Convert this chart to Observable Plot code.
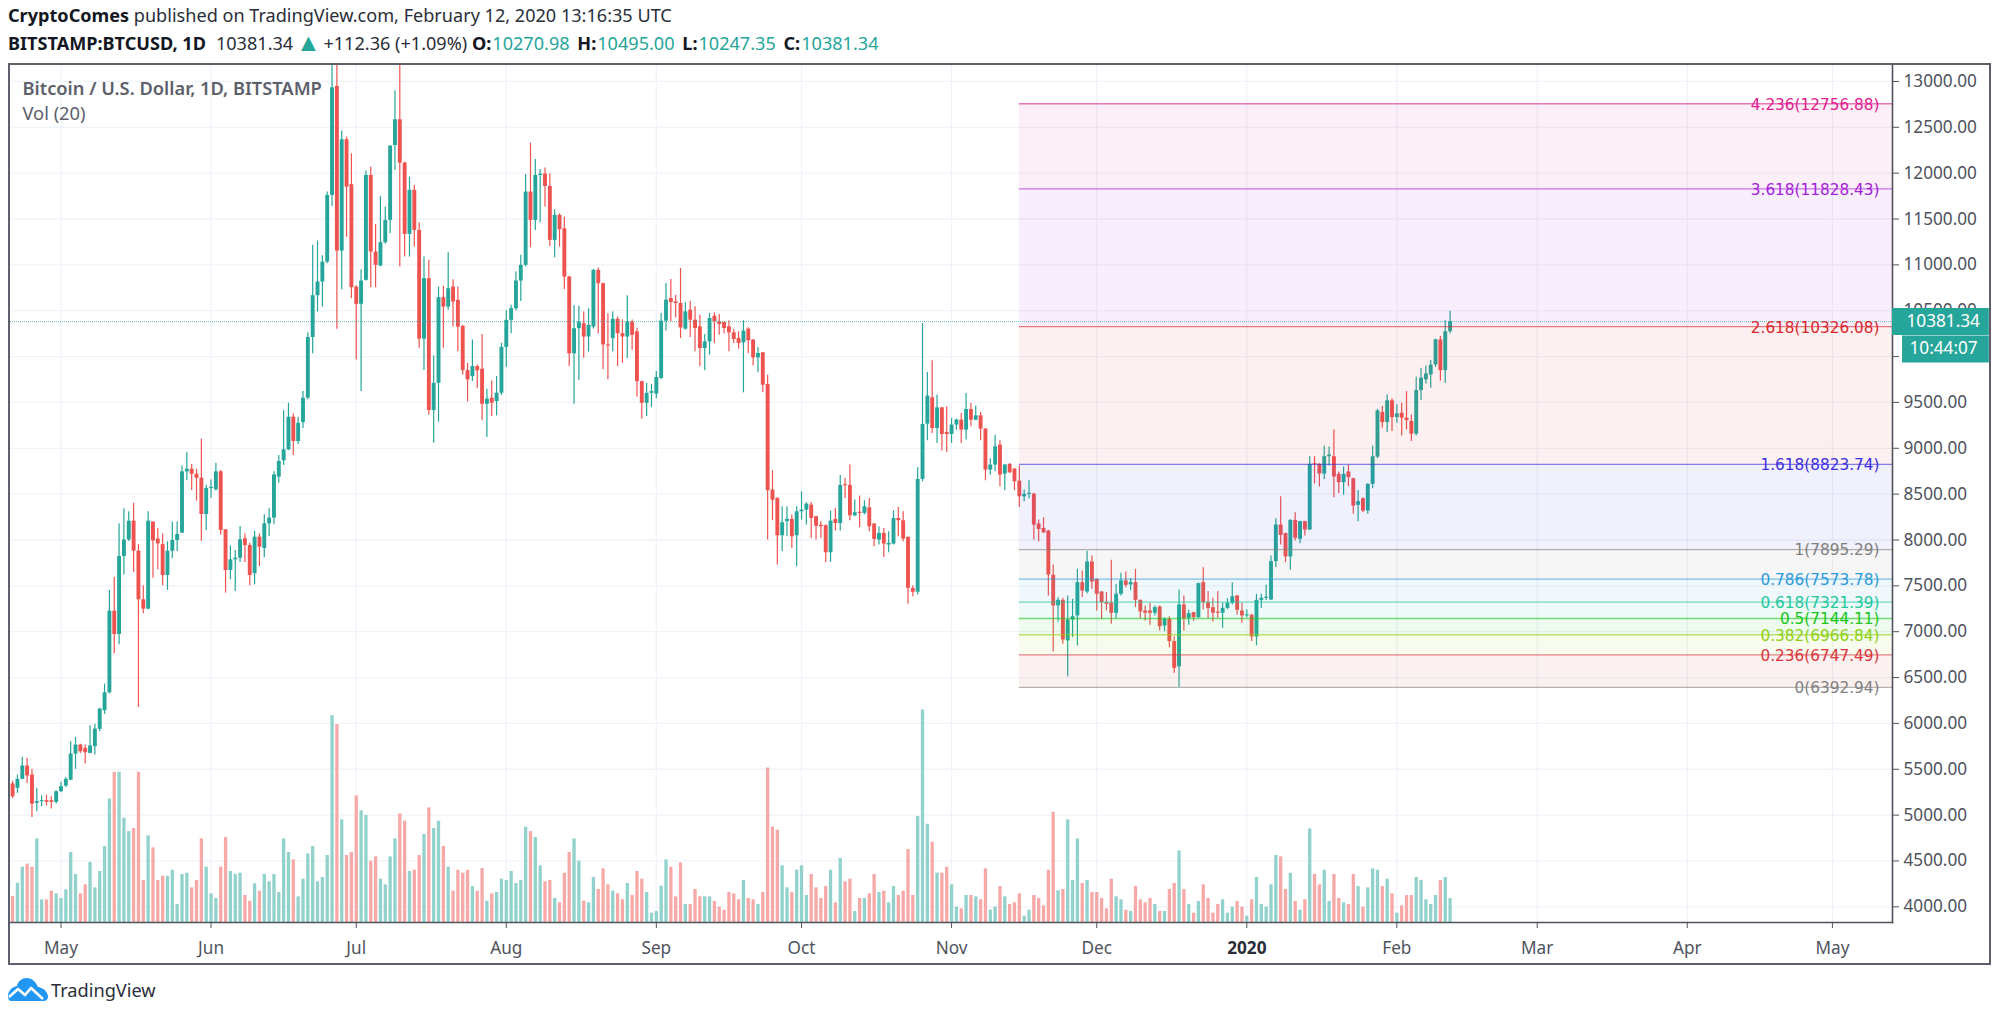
<!DOCTYPE html>
<html>
<head>
<meta charset="utf-8">
<script src="https://cdn.jsdelivr.net/npm/d3@7"></script>
<script src="https://cdn.jsdelivr.net/npm/@observablehq/plot@0.6"></script>
<style>
html,body{margin:0;padding:0;background:#fff;overflow:hidden;width:2000px;height:1018px}
body{font-family:"Noto Sans",sans-serif;color:#131722}
#head{height:63px;box-sizing:border-box;padding:1px 0 0 8px;font-size:18.1px;line-height:28px;white-space:nowrap;color:#2a2e39}
#head b{font-weight:700;color:#131722}
#head .v{color:#26a69a}
#head .gap{margin-left:10px}
#head .lab{margin-left:1px}
#head .key{margin-left:3px}
#head .arr{font-size:25px;line-height:20px;vertical-align:-1px;margin:0 -2px}
#chart{box-sizing:border-box;margin-left:8px;width:1983px;height:902px;border:2px solid #5d606b;overflow:hidden}
#chart svg{display:block}
#foot{display:flex;align-items:center;height:36px;padding:7px 0 0 8px;font-size:18.2px;color:#2a2e39}
#foot svg{margin-right:3px}
</style>
</head>
<body>
<div id="head">
<div><b>CryptoComes</b> published on TradingView.com, February 12, 2020 13:16:35 UTC</div>
<div><b>BITSTAMP:BTCUSD, 1D</b><span class="gap">10381.34</span> <span class="v arr">▲</span> +112.36 (+1.09%) <b>O:</b><span class="v lab">10270.98</span> <b class="key">H:</b><span class="v lab">10495.00</span> <b class="key">L:</b><span class="v lab">10247.35</span> <b class="key">C:</b><span class="v lab">10381.34</span></div>
</div>
<div id="chart"></div>
<div id="foot">
<svg width="40" height="24" viewBox="0 0 40 24"><path fill="#2196f3" d="M3 23h33c2 0 4-2 4-4 0-4-3-8-7-9-1-1-2-1-3-1C28 4 24 0 19 0 14 0 10 3 9 8 4 9 0 13 0 18c0 3 1 5 3 5z"/><path fill="none" stroke="#fff" stroke-width="2.6" stroke-linejoin="round" d="M1 19l9-8 7 6 6-7 12 11"/></svg>
<span>TradingView</span>
</div>
<script>
const firstDay = "2019-04-21";
const opens = [
5339,5292,5390,5535,5437,5128,5146,5157,5157,5139,
5255,5317,5382,5666,5764,5728,5673,5746,5935,6138,6334,7224,6970,7820,8000,8205,7878,7348,7246,8195,8010,7950,7613,7878,7995,8075,8743,8772,8717,8674,8278,
8561,8547,8743,8110,7668,7784,7802,8013,7940,7631,8031,7907,8176,8238,8685,8863,8983,9339,9074,9280,9546,10208,10664,10813,11030,11757,12945,11150,12364,11874,
10758,10570,10831,11975,11140,10987,11242,11485,12302,12582,12110,11332,11812,11376,10190,10850,9411,9709,10642,10540,10758,10613,10330,9847,9782,9891,9862,9480,9546,9510,9600,
10100,10395,10522,10824,10995,11794,11485,11975,11990,11855,11267,11540,11394,10867,10030,10304,10359,10213,10322,10940,10795,10127,10195,10406,10250,10213,10377,10270,9727,9491,9600,
9590,9761,10386,10633,10597,10579,10299,10506,10397,10324,10088,10160,10440,10379,10372,10324,10259,10197,10150,10299,10179,9986,10041,9696,8544,8453,8046,8200,8224,8046,
8308,8326,8380,8253,8160,8155,7861,8224,8180,8595,8595,8264,8300,8290,8351,8174,8000,8072,7945,7955,8235,8210,8028,7472,7430,8660,9263,9550,9216,9441,9173,
9151,9253,9307,9198,9423,9307,9354,9209,8762,8817,9035,8718,8824,8773,8642,8471,8497,8500,8174,8126,8097,7615,7281,7342,6899,7128,7172,7535,7433,7760,
7571,7433,7317,7310,7201,7408,7553,7510,7535,7342,7226,7226,7201,7270,7062,7135,6892,6616,7292,7146,7208,7153,7535,7317,7262,7208,7201,7255,7310,7390,7226,
7172,7179,6943,7342,7364,7346,7764,8163,8069,7815,8214,8007,8200,8109,8825,8825,8719,8908,8908,8716,8625,8741,8668,8378,8450,8316,8607,8903,9390,9280,9517,
9335,9382,9328,9292,9154,9629,9746,9800,9909,10182,9847,10270.98];
const closes = [
5200,5390,5535,5426,5120,5146,5157,5139,5139,5255,
5310,5390,5666,5764,5691,5680,5753,5938,6156,6334,7224,6970,7820,8000,8205,7878,7348,7246,8205,7990,7958,7613,7878,7995,8060,8743,8772,8717,8674,8278,8561,
8570,8743,8104,7668,7784,7802,8002,7940,7613,8031,7922,8176,8238,8710,8856,8983,9339,9074,9273,9546,10208,10664,10813,11030,11757,12931,11150,12364,11848,10751,
10570,10824,11975,11140,10995,11242,11485,12295,12582,12110,11332,11812,11376,10190,10850,9411,9709,10642,10540,10740,10595,10322,9847,9746,9891,9844,9480,9535,9491,9600,10100,
10395,10522,10824,10995,11794,11485,11975,11990,11855,11267,11540,11383,10867,10030,10304,10376,10213,10340,10940,10795,10127,10115,10406,10250,10213,10377,10232,9727,9491,9600,9618,
9772,10386,10615,10590,10579,10313,10488,10397,10306,10088,10160,10415,10379,10350,10306,10259,10186,10143,10277,10172,9986,10034,9688,8537,8435,8046,8188,8224,8035,8308,
8326,8391,8235,8150,8144,7861,8206,8180,8595,8591,8264,8297,8290,8362,8144,8006,8072,7955,7963,8235,8210,8010,7472,7430,8660,9260,9568,9216,9441,9151,9151,
9253,9307,9198,9423,9307,9354,9209,8762,8817,9016,8708,8817,8733,8635,8471,8497,8508,8162,8115,8079,7618,7281,7342,6910,7128,7164,7535,7444,7760,7542,
7408,7317,7299,7201,7408,7553,7506,7535,7342,7215,7201,7201,7262,7055,7135,6892,6601,7292,7143,7197,7153,7524,7317,7252,7201,7201,7255,7310,7382,7233,7172,
7179,6943,7342,7364,7371,7764,8163,8050,7815,8214,8018,8200,8109,8825,8820,8719,8908,8926,8687,8625,8716,8679,8370,8418,8316,8607,8908,9408,9280,9517,9335,
9375,9328,9302,9154,9629,9764,9811,9906,10182,9847,10271,10381.34];
const highs = [
5370,5437,5630,5619,5499,5292,5212,5219,5201,5265,
5357,5411,5800,5847,5772,5764,5975,5990,6165,6429,7450,7595,8176,8340,8307,8400,7950,7500,8307,8200,8125,8065,7980,8195,8195,8808,8954,8823,8772,9099,8598,
8655,8838,8757,8115,7936,7885,8147,8064,7965,8096,8067,8274,8340,8743,8921,9408,9491,9375,9339,9618,10260,11213,11260,11100,11794,13800,13450,12459,12393,12211,
10770,10947,12023,12066,11441,11747,11630,12300,12900,13200,12120,11957,11866,11460,11085,11050,10007,10758,10766,11133,10838,10758,10340,9927,10180,9909,10240,9644,9735,9782,10145,
10500,10560,10922,11104,11986,12328,12150,12040,12055,11994,11600,11557,11520,10875,10558,10548,10486,10522,10950,10966,10800,10468,10486,10430,10400,10664,10400,10310,9730,9709,9698,
9836,10470,10796,10840,10670,10960,10586,10604,10542,10451,10240,10470,10477,10459,10378,10390,10295,10270,10390,10313,10185,10100,10045,9797,8755,8460,8363,8362,8272,8362,
8526,8405,8410,8258,8200,8165,8315,8344,8704,8671,8817,8435,8479,8428,8453,8180,8145,8126,8090,8319,8355,8308,8035,7500,8791,10360,9826,9954,9580,9445,9452,
9325,9320,9380,9598,9489,9460,9390,9215,8889,9143,9082,8825,8835,8780,8806,8544,8646,8510,8217,8243,8105,7728,7371,7364,7390,7353,7680,7662,7876,7826,
7575,7438,7426,7778,7517,7637,7651,7579,7680,7347,7281,7310,7280,7280,7150,7164,6946,7455,7390,7233,7212,7530,7698,7437,7364,7437,7310,7360,7535,7395,7310,
7237,7190,7408,7408,7506,7826,8232,8472,8075,8220,8298,8205,8205,8908,8908,8830,9024,9013,9199,8741,8796,8814,8672,8541,8461,8612,9024,9425,9455,9582,9539,
9473,9491,9618,9364,9775,9873,9898,9956,10190,10218,10392,10495];
const lows = [
5180,5237,5385,5346,4975,5037,5092,5099,5066,5121,
5245,5300,5375,5500,5673,5557,5668,5655,5909,6098,6320,6760,6857,7617,7984,7646,6174,7195,7240,7584,7675,7500,7450,7795,7875,8070,8650,8540,8423,7987,8100,
8455,8535,8053,7420,7566,7439,7755,7755,7500,7511,7711,7806,8038,8165,8620,8812,8976,8921,9040,9215,9530,10030,10486,10540,11012,11637,10297,10729,11300,10631,
9964,9619,10825,10751,10751,10980,11225,11340,12030,10976,11085,11085,11195,10090,9847,9360,9055,9285,10090,10504,10322,10054,9800,9505,9727,9648,9299,9117,9346,9353,9575,
9884,10250,10500,10600,10980,11187,11376,11460,11630,11200,11078,11195,10730,9890,9480,9740,9982,10050,10300,10250,9855,9746,10050,9890,9927,9980,10070,9557,9317,9346,9444,
9539,9750,10280,10379,10420,10197,10290,10208,10052,9888,9845,10015,10143,10233,10250,10052,10143,10080,9605,10034,9896,9823,9605,8000,8210,7727,7872,8035,7908,7709,
8217,8163,8017,8000,8017,7752,7756,8097,8097,8453,8210,8254,8134,8272,8090,7926,7945,7810,7861,7945,8035,7980,7300,7380,7400,8635,9082,9162,9053,8970,8955,
9053,9198,9053,9090,9234,9300,9082,8646,8707,8744,8580,8537,8725,8537,8355,8417,8450,8000,7980,8070,7390,6779,7106,6863,6510,6935,6845,7372,7415,7462,
7226,7135,7226,7081,7143,7390,7480,7450,7263,7143,7117,7070,7172,7008,7000,6826,6547,6393,7008,7070,7115,7143,7237,7143,7106,7146,7037,7240,7290,7179,7092,
7153,6892,6845,7252,7340,7340,7698,7945,7753,7670,7990,7960,8044,8105,8610,8577,8660,8807,8461,8508,8490,8581,8280,8200,8300,8280,8560,8886,9219,9172,9183,
9273,9135,9200,9074,9135,9520,9702,9655,9880,9735,9709,10247.35];
const volumes = [
78,118,166,175,166,251,68,68,94,86,
72,98,210,144,86,113,180,104,153,228,371,451,451,313,273,282,451,126,260,224,126,139,139,157,54,144,148,104,126,251,166,
86,72,166,255,153,144,148,81,64,116,94,144,122,144,90,251,210,188,77,130,206,228,122,135,201,621,594,308,201,210,
380,335,321,184,197,130,113,197,251,326,304,153,157,201,264,344,282,304,228,166,94,157,148,157,108,94,162,64,86,90,130,
126,153,117,126,286,273,255,170,122,126,72,59,148,210,251,184,64,59,135,99,161,113,94,86,68,117,81,153,130,90,28,
33,109,188,166,77,179,54,54,99,77,77,77,63,46,37,90,86,68,126,72,68,54,90,464,286,277,170,104,90,157,
170,81,144,104,72,108,157,59,192,122,130,33,72,72,86,144,90,94,59,108,81,94,219,81,318,638,295,241,148,148,166,
113,46,41,81,81,77,68,161,37,46,108,77,54,59,86,19,37,81,72,50,157,331,95,99,308,126,251,117,126,90,
90,72,41,130,77,68,37,33,108,68,59,72,54,33,33,99,117,215,99,54,28,63,113,72,28,54,68,28,46,63,46,
19,68,135,54,46,113,201,197,99,148,63,37,68,281,144,113,157,63,144,72,59,54,144,108,46,104,161,157,108,130,86,
28,50,81,81,135,126,68,54,81,126,135,72];

const fibRatios = ["0","0.236","0.382","0.5","0.618","0.786","1","1.618","2.618","3.618","4.236"];
const fibPrices = [6392.94,6747.49,6966.84,7144.11,7321.39,7573.78,7895.29,8823.74,10326.08,11828.43,12756.88];
const fibColors = ["#808080","#d9363c","#8fd014","#18c618","#22c79a","#2b9ad8","#808080","#3c2fdc","#d9282e","#a322d8","#e0208f"];
const fibStart = new Date("2019-11-15T00:00Z");

const priceTicks = d3.range(4000, 13500, 500);
const tickDates = ["2019-05-01","2019-06-01","2019-07-01","2019-08-01","2019-09-01","2019-10-01","2019-11-01","2019-12-01","2020-01-01","2020-02-01","2020-03-01","2020-04-01","2020-05-01"].map(s => new Date(s + "T00:00Z"));
const tickLabels = ["May","Jun","Jul","Aug","Sep","Oct","Nov","Dec","2020","Feb","Mar","Apr","May"];

const lastPrice = 10381.34;
const countdownLevel = 10083;
const xDomain = [new Date("2019-04-20T13:35Z"), new Date("2020-05-13T09:50Z")];
const yDomain = [3829, 13174];
const badgeEnd = new Date("2020-06-02T10:00Z");
const countdownStart = new Date("2020-05-15T11:30Z");
const volumeUnit = 3.633;

const UP = "#26a69a", DOWN = "#ef5350", UPV = "#92d2cc", DOWNV = "#f7a9a7", TXT = "#50535e";
const uiFont = "'Noto Sans',sans-serif";

const start = new Date(firstDay + "T00:00Z");
const bars = opens.map((o, i) => ({
  date: new Date(+start + i * 864e5), o, c: closes[i], h: highs[i], l: lows[i], v: volumes[i]
}));
const fib = fibPrices.map((p, i) => ({p, prev: i ? fibPrices[i-1] : p, color: fibColors[i], label: `${fibRatios[i]}(${p.toFixed(2)})`}));

const svg = Plot.plot({
  width: 1979, height: 898,
  marginTop: 0, marginLeft: 0, marginRight: 97, marginBottom: 41,
  style: {background: "#fff", color: TXT, fontFamily: uiFont, overflow: "visible"},
  x: {type: "utc", domain: xDomain, axis: null},
  y: {domain: yDomain, clamp: true, axis: null},
  marks: [
    Plot.gridY(priceTicks, {stroke: "#f0f3fa", strokeOpacity: 1, strokeWidth: 1.3}),
    Plot.gridX(tickDates, {stroke: "#f0f3fa", strokeOpacity: 1, strokeWidth: 1.3}),
    Plot.ruleX(bars, {x: "date", y1: yDomain[0], y2: d => yDomain[0] + d.v * volumeUnit, stroke: d => d.c >= d.o ? UPV : DOWNV, strokeWidth: 3.3}),
    Plot.ruleX(bars, {x: "date", y1: "l", y2: "h", stroke: d => d.c >= d.o ? UP : DOWN, strokeWidth: 1.2}),
    Plot.ruleX(bars, {x: "date", y1: d => Math.min(d.o, d.c), y2: d => Math.max(d.o, d.c, Math.min(d.o, d.c) + 12), stroke: d => d.c >= d.o ? UP : DOWN, strokeWidth: 3.9}),
    Plot.rect(fib.slice(1), {x1: fibStart, x2: xDomain[1], y1: "prev", y2: "p", fill: "color", fillOpacity: 0.07}),
    Plot.ruleY(fib, {y: "p", x1: fibStart, x2: xDomain[1], stroke: "color", strokeOpacity: 0.6, strokeWidth: 1.3}),
    Plot.ruleY([lastPrice], {stroke: UP, strokeOpacity: 0.7, strokeDasharray: "1 1"}),
    Plot.frame({anchor: "bottom", stroke: TXT, strokeWidth: 1.6}),
    Plot.frame({anchor: "right", stroke: TXT, strokeWidth: 1.6}),
    Plot.axisX({ticks: tickDates, tickFormat: (d, i) => tickLabels[i], tickSize: 6, tickPadding: 13, fontSize: 17.2, label: null, fill: TXT, stroke: TXT}),
    Plot.axisY({anchor: "right", ticks: priceTicks, tickFormat: d => d.toFixed(2), tickSize: 6, tickPadding: 5, fontSize: 17.2, label: null, fill: TXT, stroke: TXT}),
    Plot.text(fib, {y: "p", frameAnchor: "right", dx: -13, dy: 1, textAnchor: "end", text: "label", fill: "color", fontSize: 15.3, fontFamily: "'DejaVu Sans',sans-serif"}),
    Plot.ruleY([lastPrice], {x1: xDomain[1], x2: badgeEnd, stroke: UP, strokeWidth: 27}),
    Plot.ruleY([countdownLevel], {x1: countdownStart, x2: badgeEnd, stroke: UP, strokeWidth: 27}),
    Plot.text([lastPrice], {y: d => d, frameAnchor: "right", textAnchor: "start", dx: 14, text: d => d.toFixed(2), fill: "#fff", fontSize: 17.2}),
    Plot.text([countdownLevel], {y: d => d, frameAnchor: "right", textAnchor: "start", dx: 17, text: () => "10:44:07", fill: "#fff", fontSize: 17.2}),
    Plot.text(["Bitcoin / U.S. Dollar, 1D, BITSTAMP"], {frameAnchor: "top-left", textAnchor: "start", lineAnchor: "middle", dx: 12, dy: 24, text: d => d, fill: "#5d606b", fontSize: 18.3, fontWeight: 600}),
    Plot.text(["Vol (20)"], {frameAnchor: "top-left", textAnchor: "start", lineAnchor: "middle", dx: 12, dy: 49, text: d => d, fill: "#5d606b", fontSize: 18.3})
  ]
});
d3.select(svg).selectAll("text").filter(function(){ return this.textContent === "2020"; }).style("font-weight", 700).attr("fill", "#2a2e39");
document.getElementById("chart").appendChild(svg);
</script>
</body>
</html>
